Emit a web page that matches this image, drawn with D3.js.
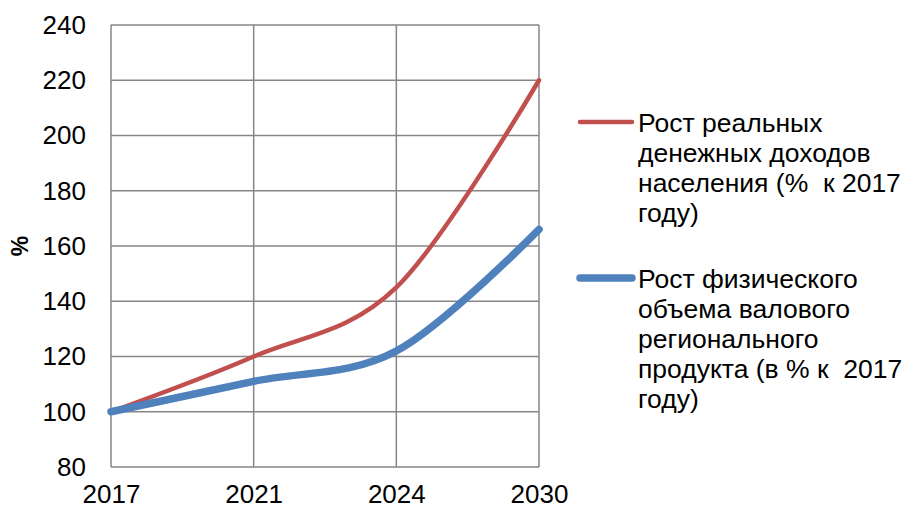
<!DOCTYPE html>
<html><head><meta charset="utf-8">
<script src="https://cdn.jsdelivr.net/npm/d3@7"></script>
<style>body{margin:0;background:#fff}svg{display:block}text{font-family:"Liberation Sans",Arial,sans-serif;fill:#000}</style>
</head><body><svg id="c" width="905" height="509"></svg>
<script>
const years = ["2017","2021","2024","2030"];
const incomeGrowth = [100, 120, 145, 220];
const grpGrowth = [100, 111, 122, 166];
const yTicks = [80,100,120,140,160,180,200,220,240];
const seriesNames = [
  ["Рост реальных","денежных доходов","населения (%  к 2017","году)"],
  ["Рост физического","объема валового","регионального","продукта (в % к  2017","году)"]
];
const colors = ["#C0504D","#4F81BD"];
const widths = [4.5, 7.5];

const svg = d3.select("#c");
const L=111, R=539, T=25, B=467;
const x = d3.scalePoint().domain(years).range([L,R]);
const y = d3.scaleLinear().domain([80,240]).range([B,T]);

// grid
svg.append("g").selectAll("line").data(yTicks).join("line")
  .attr("x1",L).attr("x2",R).attr("y1",d=>y(d)).attr("y2",d=>y(d))
  .attr("stroke","#868686").attr("stroke-width",1.5);
svg.append("g").selectAll("line").data(years).join("line")
  .attr("x1",d=>x(d)).attr("x2",d=>x(d)).attr("y1",T).attr("y2",B)
  .attr("stroke","#868686").attr("stroke-width",1.5);

// axes
const ya = svg.append("g").attr("transform",`translate(${L},0)`)
  .call(d3.axisLeft(y).tickValues(yTicks).tickSize(0).tickPadding(25));
ya.select(".domain").remove();
ya.selectAll("text").attr("font-size",26).attr("font-family","Liberation Sans, Arial");
const xa = svg.append("g").attr("transform",`translate(0,${B})`)
  .call(d3.axisBottom(x).tickSize(0).tickPadding(18));
xa.select(".domain").remove();
xa.selectAll("text").attr("font-size",26).attr("font-family","Liberation Sans, Arial");

svg.append("text").attr("transform","translate(28,246) rotate(-90)")
  .attr("text-anchor","middle").attr("font-size",23).attr("font-weight","bold").text("%");

// lines
const line = d3.line().x((d,i)=>x(years[i])).y(d=>y(d)).curve(d3.curveCardinal.tension(0));
[incomeGrowth, grpGrowth].forEach((s,k)=>{
  svg.append("path").attr("d",line(s)).attr("fill","none")
    .attr("stroke",colors[k]).attr("stroke-width",widths[k]).attr("stroke-linecap","round");
});

// legend
const legY = [122, 278];
seriesNames.forEach((lines,k)=>{
  svg.append("line").attr("x1",580).attr("x2",632).attr("y1",legY[k]).attr("y2",legY[k])
    .attr("stroke",colors[k]).attr("stroke-width",widths[k]).attr("stroke-linecap","round");
  const t = svg.append("text").attr("x",638).attr("y",legY[k]+9.5).attr("font-size",26.5);
  lines.forEach((ln,i)=>t.append("tspan").attr("x",638).attr("dy",i?30:0).style("white-space","pre").text(ln));
});
</script></body></html>
